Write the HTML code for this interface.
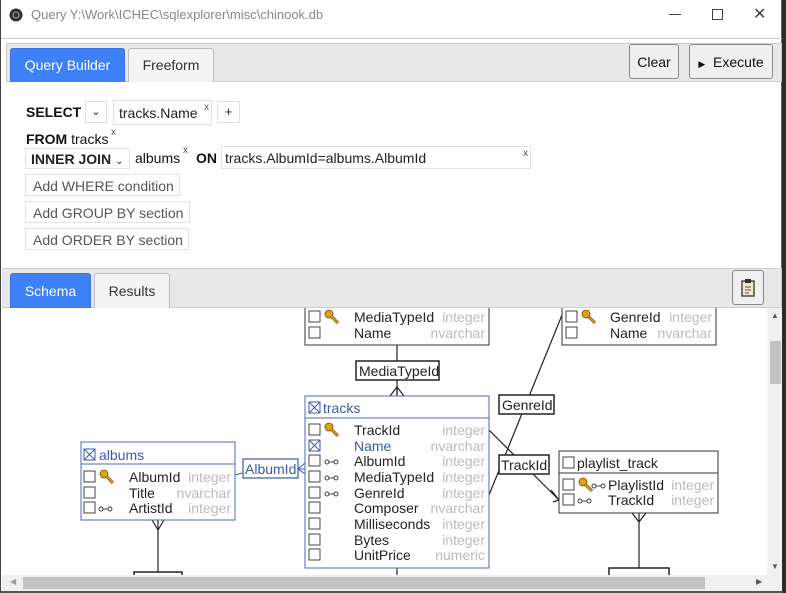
<!DOCTYPE html>
<html><head><meta charset="utf-8"><style>
*{margin:0;padding:0;box-sizing:border-box}
body{width:786px;height:593px;overflow:hidden;background:#2b2b2b;font-family:"Liberation Sans",Arial,sans-serif;font-size:14px;color:#111;position:relative}
.win{position:absolute;left:0;top:0;width:782px;height:593px;background:#fff;border-left:1px solid #444;border-right:1px solid #666}
.a{position:absolute}
.bar{background:#e8e8e8;border:1px solid #ccc}
.tab{position:absolute;border:1px solid #bbb;border-bottom:none;border-radius:3px 3px 0 0;background:#f4f4f4;text-align:center;color:#333}
.tab.on{background:#3d80f7;border-color:#3a74e0;color:#fff}
.btn{position:absolute;border:1px solid #888;border-radius:3px;background:#efefef;text-align:center;color:#111}
.chip{position:absolute;border:1px solid #e2e2e2;color:#222}
.x{position:absolute;font-size:10px;color:#555}
b{font-weight:bold}
</style></head><body>
<div class="win">
  <svg class="a" style="left:8px;top:8px" width="14" height="14"><circle cx="7" cy="7" r="6.5" fill="#2e3338"/><circle cx="7" cy="7" r="3" fill="none" stroke="#9aa" stroke-width="1"/></svg>
  <div class="a" style="left:30px;top:7px;font-size:13px;color:#888">Query Y:\Work\ICHEC\sqlexplorer\misc\chinook.db</div>
  <div class="a" style="left:668px;top:14px;width:12px;height:1px;background:#444"></div>
  <div class="a" style="left:711px;top:9px;width:11px;height:11px;border:1px solid #444"></div>
  <div class="a" style="left:752px;top:4px;font-size:16px;color:#444">✕</div>
  <div class="a" style="left:0;top:38px;width:781px;height:1px;background:#ccc"></div>

  <div class="a bar" style="left:5px;top:43px;width:776px;height:39px"></div>
  <div class="tab on" style="left:9px;top:48px;width:115px;height:34px;line-height:33px">Query Builder</div>
  <div class="tab" style="left:127px;top:48px;width:86px;height:34px;line-height:33px">Freeform</div>
  <div class="btn" style="left:628px;top:44px;width:50px;height:35px;line-height:34px">Clear</div>
  <div class="btn" style="left:688px;top:44px;width:84px;height:35px;line-height:34px"><span style="font-size:9px">▶</span>&nbsp; Execute</div>

  <div class="a" style="left:25px;top:104px"><b>SELECT</b></div>
  <div class="chip" style="left:84px;top:101px;width:22px;height:22px;text-align:center;font-size:11px;line-height:20px">⌄</div>
  <div class="chip" style="left:112px;top:100px;width:99px;height:25px;padding:4px 0 0 5px">tracks.Name</div>
  <div class="x" style="left:203px;top:102px">x</div>
  <div class="chip" style="left:216px;top:101px;width:23px;height:22px;text-align:center;line-height:20px;font-size:13px">+</div>
  <div class="a" style="left:25px;top:131px"><b>FROM</b> tracks</div>
  <div class="x" style="left:110px;top:127px">x</div>
  <div class="chip" style="left:24px;top:148px;width:105px;height:21px;padding:2px 0 0 5px"><b>INNER JOIN</b> <span style="font-size:10px">⌄</span></div>
  <div class="a" style="left:134px;top:150px">albums</div>
  <div class="x" style="left:182px;top:145px">x</div>
  <div class="a" style="left:195px;top:150px"><b>ON</b></div>
  <div class="chip" style="left:220px;top:146px;width:310px;height:23px;padding:3px 0 0 3px">tracks.AlbumId=albums.AlbumId</div>
  <div class="x" style="left:522px;top:148px">x</div>
  <div class="chip" style="left:24px;top:174px;width:155px;height:22px;padding:3px 0 0 7px;color:#555">Add WHERE condition</div>
  <div class="chip" style="left:24px;top:201px;width:165px;height:22px;padding:3px 0 0 7px;color:#555">Add GROUP BY section</div>
  <div class="chip" style="left:24px;top:228px;width:164px;height:22px;padding:3px 0 0 7px;color:#555">Add ORDER BY section</div>

  <div class="a bar" style="left:1px;top:268px;width:780px;height:40px;border-left:none"></div>
  <div class="tab on" style="left:9px;top:273px;width:81px;height:35px;line-height:34px">Schema</div>
  <div class="tab" style="left:93px;top:273px;width:76px;height:35px;line-height:34px">Results</div>
  <div class="btn" style="left:731px;top:270px;width:32px;height:35px;background:#f0f0f0"><svg width="30" height="33"><rect x="9" y="10" width="12" height="15" fill="#f5e6c8" stroke="#333" stroke-width="1.3"/><rect x="12" y="8" width="6" height="4" fill="#333"/><line x1="12" y1="16" x2="18" y2="16" stroke="#555"/><line x1="12" y1="19" x2="18" y2="19" stroke="#555"/><line x1="12" y1="22" x2="16" y2="22" stroke="#555"/></svg></div>

  <svg class="a" style="left:0;top:308px" width="766" height="267" viewBox="0 308 766 267" font-family="Liberation Sans, Arial, sans-serif" font-size="14">
    <defs>
      <g id="cb"><rect x="0" y="-11" width="11" height="11" fill="#fff" stroke="#444" stroke-width="1"/></g>
      <g id="cbx"><rect x="0" y="-11" width="11" height="11" fill="#fff" stroke="#3a5aa8"/><path d="M0 -11L11 0M11 -11L0 0" stroke="#3a5aa8"/></g>
      <g id="key"><circle cx="4" cy="-8" r="4" fill="#e0a020" stroke="#7a5000" stroke-width=".8"/><path d="M6 -6L13 1" stroke="#7a5000" stroke-width="3"/><path d="M6 -6L13 1" stroke="#e0a020" stroke-width="1.5"/></g>
      <g id="lnk"><circle cx="2" cy="-4" r="2" fill="none" stroke="#333" stroke-width=".9"/><circle cx="11" cy="-4" r="2" fill="none" stroke="#333" stroke-width=".9"/><line x1="4" y1="-4" x2="9" y2="-4" stroke="#333" stroke-width=".9"/></g>
    </defs>
    <g stroke="#222" stroke-width="1.2" fill="none">
      <line x1="396" y1="345" x2="396" y2="362"/><line x1="396" y1="380" x2="396" y2="396"/>
      <path d="M389 396L396 387L403 396M396 387V396"/>
      <line x1="561" y1="315" x2="488" y2="495"/>
      <path d="M488 430L558 500M550 490L558 500L552 502"/>
      <line x1="638" y1="513" x2="638" y2="568"/><path d="M631 513L638 522L645 513"/>
      <line x1="157" y1="520" x2="157" y2="572"/><path d="M151 520L157 530L163 520"/>
      <line x1="396" y1="568" x2="396" y2="575"/>
    </g>
    <path d="M234 475L241 473M297 469L304 469M304 463L297 469L304 474" stroke="#3a5aa8" fill="none"/>
    <g fill="#fff" stroke="#222" stroke-width="1.5">
      <rect x="355" y="361" width="83" height="19"/><rect x="498" y="395" width="55" height="19"/><rect x="498" y="455" width="50" height="19"/>
      <rect x="608" y="568" width="60" height="19"/><rect x="133" y="572" width="48" height="19"/>
    </g>
    <g fill="#222"><text x="358" y="376">MediaTypeId</text><text x="501" y="410">GenreId</text><text x="500" y="470">TrackId</text></g>
    <rect x="242" y="459" width="55" height="19" fill="#fff" stroke="#3a5aa8" stroke-width="1.2"/><text x="244" y="474" fill="#3a5aa8">AlbumId</text>

    <!-- mediatypes -->
    <rect x="304" y="290" width="184" height="55" fill="#fff" stroke="#333"/>
    <use href="#cb" x="308" y="322"/><use href="#key" x="324" y="322"/><use href="#cb" x="308" y="338"/>
    <text x="353" y="322" fill="#222">MediaTypeId</text><text x="484" y="322" fill="#bbb" text-anchor="end">integer</text>
    <text x="353" y="338" fill="#222">Name</text><text x="484" y="338" fill="#bbb" text-anchor="end">nvarchar</text>
    <!-- genres -->
    <rect x="561" y="290" width="154" height="55" fill="#fff" stroke="#333"/>
    <use href="#cb" x="565" y="322"/><use href="#key" x="581" y="322"/><use href="#cb" x="565" y="338"/>
    <text x="609" y="322" fill="#222">GenreId</text><text x="711" y="322" fill="#bbb" text-anchor="end">integer</text>
    <text x="609" y="338" fill="#222">Name</text><text x="711" y="338" fill="#bbb" text-anchor="end">nvarchar</text>
    <!-- tracks -->
    <rect x="304" y="396" width="184" height="172" fill="#fff" stroke="#4a6ab8"/>
    <line x1="304" y1="418" x2="488" y2="418" stroke="#4a6ab8"/>
    <use href="#cbx" x="308" y="413"/><text x="322" y="413" fill="#3a5aa8">tracks</text>
    <g fill="#222">
      <use href="#cb" x="308" y="435"/><use href="#key" x="324" y="435"/><text x="353" y="435">TrackId</text>
      <use href="#cbx" x="308" y="451"/><text x="353" y="451" fill="#3a5aa8">Name</text>
      <use href="#cb" x="308" y="466"/><use href="#lnk" x="324" y="466"/><text x="353" y="466">AlbumId</text>
      <use href="#cb" x="308" y="482"/><use href="#lnk" x="324" y="482"/><text x="353" y="482">MediaTypeId</text>
      <use href="#cb" x="308" y="498"/><use href="#lnk" x="324" y="498"/><text x="353" y="498">GenreId</text>
      <use href="#cb" x="308" y="513"/><text x="353" y="513">Composer</text>
      <use href="#cb" x="308" y="529"/><text x="353" y="529">Milliseconds</text>
      <use href="#cb" x="308" y="545"/><text x="353" y="545">Bytes</text>
      <use href="#cb" x="308" y="560"/><text x="353" y="560">UnitPrice</text>
    </g>
    <g fill="#bbb" text-anchor="end">
      <text x="484" y="435">integer</text><text x="484" y="451">nvarchar</text><text x="484" y="466">integer</text><text x="484" y="482">integer</text><text x="484" y="498">integer</text><text x="484" y="513">nvarchar</text><text x="484" y="529">integer</text><text x="484" y="545">integer</text><text x="484" y="560">numeric</text>
    </g>
    <!-- playlist_track -->
    <rect x="558" y="451" width="159" height="62" fill="#fff" stroke="#333"/>
    <line x1="558" y1="473" x2="717" y2="473" stroke="#333"/>
    <use href="#cb" x="562" y="468"/><text x="576" y="468" fill="#222">playlist_track</text>
    <use href="#cb" x="562" y="490"/><use href="#key" x="578" y="490"/><use href="#lnk" x="591" y="490"/><text x="607" y="490" fill="#222">PlaylistId</text><text x="713" y="490" fill="#bbb" text-anchor="end">integer</text>
    <use href="#cb" x="562" y="505"/><use href="#lnk" x="577" y="505"/><text x="607" y="505" fill="#222">TrackId</text><text x="713" y="505" fill="#bbb" text-anchor="end">integer</text>
    <!-- albums -->
    <rect x="80" y="442" width="154" height="78" fill="#fff" stroke="#4a6ab8"/>
    <line x1="80" y1="464" x2="234" y2="464" stroke="#4a6ab8"/>
    <use href="#cbx" x="83" y="460"/><text x="98" y="460" fill="#3a5aa8">albums</text>
    <use href="#cb" x="83" y="482"/><use href="#key" x="99" y="482"/><text x="128" y="482" fill="#222">AlbumId</text><text x="230" y="482" fill="#bbb" text-anchor="end">integer</text>
    <use href="#cb" x="83" y="498"/><text x="128" y="498" fill="#222">Title</text><text x="230" y="498" fill="#bbb" text-anchor="end">nvarchar</text>
    <use href="#cb" x="83" y="513"/><use href="#lnk" x="98" y="513"/><text x="128" y="513" fill="#222">ArtistId</text><text x="230" y="513" fill="#bbb" text-anchor="end">integer</text>
  </svg>
  <!-- scrollbars -->
  <div class="a" style="left:766px;top:308px;width:15px;height:267px;background:#f0f0f0"></div>
  <div class="a" style="left:769px;top:341px;width:11px;height:43px;background:#c2c2c2"></div>
  <div class="a" style="left:770px;top:311px;font-size:8px;color:#555">▲</div>
  <div class="a" style="left:770px;top:562px;font-size:8px;color:#555">▼</div>
  <div class="a" style="left:1px;top:575px;width:780px;height:16px;background:#f0f0f0"></div>
  <div class="a" style="left:22px;top:577px;width:682px;height:12px;background:#c2c2c2"></div>
  <div class="a" style="left:9px;top:577px;font-size:8px;color:#999">◀</div>
  <div class="a" style="left:755px;top:577px;font-size:8px;color:#555">▶</div>
  <div class="a" style="left:0;top:591px;width:782px;height:2px;background:#555"></div>
</div>
</body></html>
